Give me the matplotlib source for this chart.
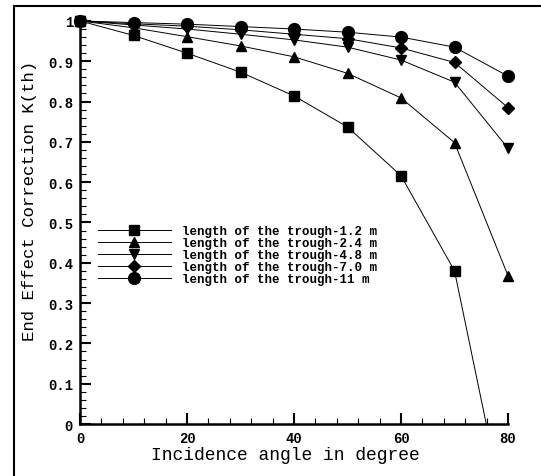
import matplotlib
matplotlib.use("Agg")
import matplotlib.pyplot as plt
from matplotlib.patches import Rectangle
from matplotlib.lines import Line2D
from matplotlib.ticker import MultipleLocator

# incidence angle (degree)
angles = [0, 10, 20, 30, 40, 50, 60, 70, 80]

# end effect correction per trough length
k_12 = [1.0, 0.964, 0.920, 0.873, 0.814, 0.737, 0.616, 0.380, -0.26]
k_24 = [1.0, 0.983, 0.961, 0.938, 0.911, 0.870, 0.809, 0.698, 0.368]
k_48 = [1.0, 0.990, 0.980, 0.967, 0.953, 0.935, 0.903, 0.848, 0.684]
k_70 = [1.0, 0.993, 0.987, 0.978, 0.967, 0.956, 0.933, 0.897, 0.785]
k_11 = [1.0, 0.996, 0.992, 0.986, 0.980, 0.972, 0.960, 0.935, 0.863]

labels = [
    "length of the trough-1.2 m",
    "length of the trough-2.4 m",
    "length of the trough-4.8 m",
    "length of the trough-7.0 m",
    "length of the trough-11 m",
]
series = [k_12, k_24, k_48, k_70, k_11]
markers = ["s", "^", "v", "D", "o"]
msizes = [6.5, 7, 7, 6.5, 8.5]

MONO = ["Liberation Mono", "DejaVu Sans Mono"]

fig = plt.figure(figsize=(5.41, 4.77), dpi=100)
ax = fig.add_axes([0.148, 0.109, 0.791, 0.845])

# clip slightly outside the axes so the markers on the edges stay whole
clip = Rectangle((-0.05, 0), 1.1, 1.2, transform=ax.transAxes, visible=False)
ax.add_patch(clip)

for y, m, ms, lab in zip(series, markers, msizes, labels):
    ln, = ax.plot(angles, y, marker=m, markersize=ms, color="black",
                  markerfacecolor="black", linewidth=0.7, label=lab)
    ln.set_clip_path(clip)

ax.set_xlim(0, 80)
ax.set_ylim(0, 1)
ax.xaxis.set_minor_locator(MultipleLocator(4))
ax.yaxis.set_minor_locator(MultipleLocator(0.02))
ax.set_xticks([0, 20, 40, 60, 80])
ax.set_xticklabels(["0", "20", "40", "60", "80"])
ax.set_yticks([0, 0.1, 0.2, 0.3, 0.4, 0.5, 0.6, 0.7, 0.8, 0.9, 1.0])
ax.set_yticklabels(["0", "0.1", "0.2", "0.3", "0.4", "0.5", "0.6", "0.7",
                    "0.8", "0.9", "1"])

for s in ("top", "right"):
    ax.spines[s].set_visible(False)
for s in ("left", "bottom"):
    ax.spines[s].set_linewidth(1.8)

ax.tick_params(which="major", direction="in", length=8, width=1.5,
               labelsize=10, pad=5)
ax.tick_params(which="minor", direction="in", length=4, width=0.8)
for t in ax.get_xticklabels() + ax.get_yticklabels():
    t.set_family(MONO)
    t.set_fontweight("bold")

ax.set_xlabel("Incidence angle in degree", family=MONO, fontsize=13)
ax.set_ylabel("End Effect Correction K(th)", family=MONO, fontsize=12.5)
ax.xaxis.set_label_coords(0.48, -0.055)
ax.yaxis.set_label_coords(-0.10, 0.555)

leg = ax.legend(loc="upper left", bbox_to_anchor=(0.042, 0.494), frameon=False,
                prop={"family": MONO, "size": 9, "weight": "bold"},
                handlelength=5.8, handletextpad=0.9, labelspacing=0.0,
                borderpad=0, borderaxespad=0)

# frame around the figure (left and top edges are visible)
fig.add_artist(Line2D([0.025, 0.025], [0, 0.986], transform=fig.transFigure,
                      color="black", linewidth=1.5))
fig.add_artist(Line2D([0.025, 1.0], [0.986, 0.986], transform=fig.transFigure,
                      color="black", linewidth=1.5))

fig.savefig("out.png", dpi=100)
